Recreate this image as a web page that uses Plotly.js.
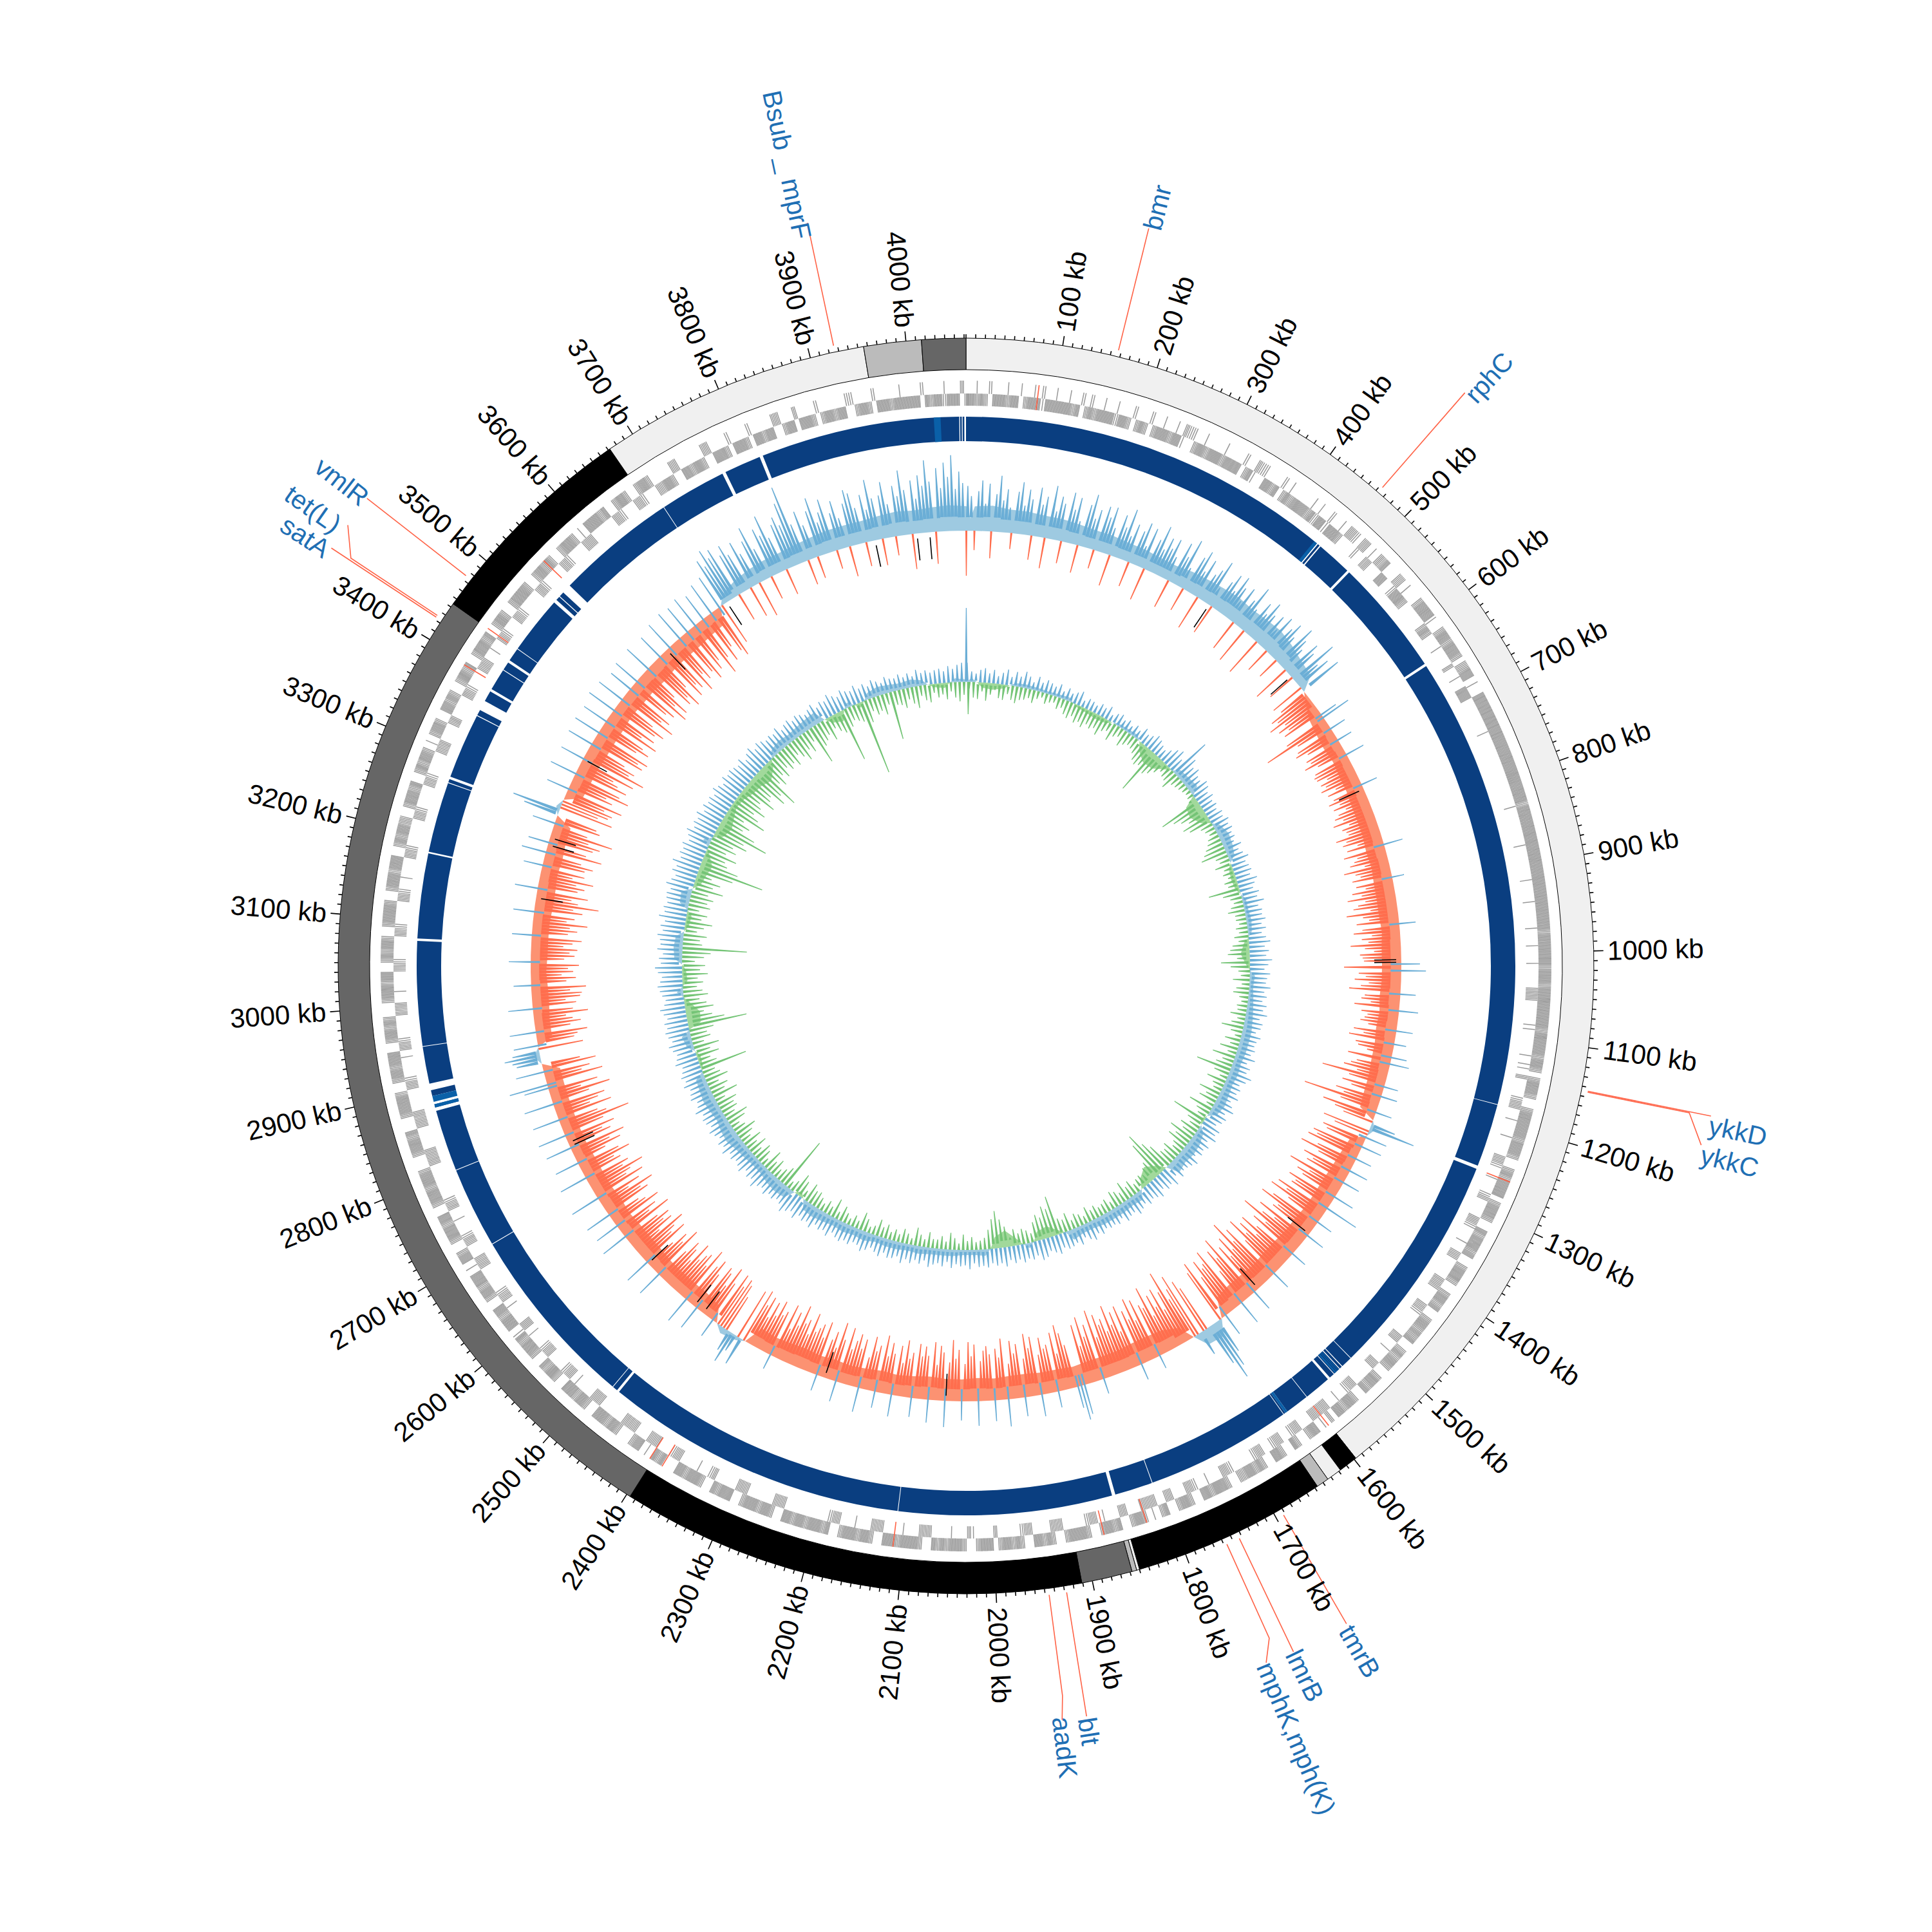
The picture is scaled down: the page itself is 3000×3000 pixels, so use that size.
<!DOCTYPE html>
<html><head><meta charset="utf-8">
<script src="https://cdn.plot.ly/plotly-3.0.1.min.js"></script>
<style>html,body{margin:0;padding:0;background:#fff}</style></head>
<body><div id="chart" style="width:3000px;height:3000px"></div>
<script>
const genomeKb = 4062;

// Outer contig ring: boundaries (kb) and shade
const contigStart = [0,1598,1618,1634,1647,1850,1853,1858,1911,2396,3444,3672,3956,4016];
const contigEnd   = [1598,1618,1634,1647,1850,1853,1858,1911,2396,3444,3672,3956,4016,4062];
const contigColor = ['#f0f0f0','#000000','#f0f0f0','#bbbbbb','#000000','#f0f0f0','#bbbbbb','#666666','#000000','#666666','#000000','#f0f0f0','#bbbbbb','#666666'];

// White gaps in the blue ring (kb)
const gapStart = [448,452,496,639,1180,1256,1529,1543,1547,1556,1563,1598,1627,1632,1807,1853,2111,2473,2482,2703,2800,2874,2882,2885,2899,2901,2951,3076,3180,3266,3271,3352,3360,3385,3414,3425,3444,3514,3523,3530,3685,3765,3768,3813,4054,4057,4060];
const gapEnd   = [449.5,453.5,499,642,1180.8,1260,1529.8,1544,1548,1556.8,1566,1598.8,1630,1632.8,1807.8,1857,2111.8,2476,2482.8,2703.8,2800.8,2878,2885,2892,2901,2907,2951.8,3079,3182,3267,3274,3353,3372,3388,3415,3428,3444.8,3518,3524,3541,3685.8,3768,3769,3817,4055,4058,4062];
// Lighter bands in the blue ring (kb)
const bandStart = [444,1549,1551,1553,1627,2885,2878,4024];
const bandEnd   = [448,1550,1552,1555,1630,2892,2882,4032];

// Gene occupancy per 5 kb bin, one string per 100 kb (0 empty .. 9 filled)
const geneOuter = ["00200500030030020400","20030040500200300050","00400200306550020000","30000500755000040200","00020300400307750660","30778000770300079999","20079979997077990200","99999999999999999999","99999979999999999999","99999999899999979999","99979997999989999799","99979970799970079989","99799970079799990799","97009799979007999700","79979007997979007979","97007997900799799070","30997007900799007979","97700799979900799700","97020799700979970079","99970079799007979970","99970079997979007999","97999007997999700979","99799799007997999700","99979007999799000979","02099700079979990079","97999007997900799979","20999799007997999020","99700799979900799979","99700079997900079999","70079979990079979700","07999799007979970079","99970079997999007979","97700799979007979970","20799700997970079979","00799979007997007999","97007997970079997020","99997900799700799700","00077000000770000500","00500000770007000040","00000550000500000200","0050000300070"];
const geneInner = ["99797099979907999299","99997907979999599707","97079997992007997999","79999079200997907979","99979599299970000400","77000990059997000000","79700020000700200999","00000000200000000000","00000020000000030000","00030000300000200020","00200000776000002200","00020220700005770030","00200007750020005700","00775000200770000077","70000775000000770020","00770000077500200777","77000775007750077500","00057700030057700077","00777700077000307750","00007770000775000007","00003700020000777000","20000777000200077500","00000000777000000777","00000750020000775000","77700077770000007770","00020775000077500020","77000020775000000777","00077500020077500000","00077770000077770000","07750000207750000077","70020000775000007750","00007750020000775000","00077500000775000007","77000077000007750000","77700200775000775000","00775000007750000777","00000077500077500077","99700997997009997099","97099799007990999707","99799007997099979999","9909799599907"];
// Highlighted genes in the gene track (kb)
const markedGenes = [81,1260,1599,1828,1877,2112,2384,2400,3396,3444,3541];

// GC skew per 5 kb, one row per 100 kb (positive outward, blue; negative inward, orange)
const skewRows = [
[62,48,-30,55,70,38,66,-42,52,78,44,60,35,-25,58,72,40,63,50,-38],
[68,45,57,-48,74,39,61,52,-35,70,47,65,33,-44,59,75,42,56,-30,64],
[50,66,38,-50,60,44,72,35,54,-40,48,62,30,58,-52,46,68,36,55,42],
[58,34,-46,60,42,70,30,-38,52,64,36,56,-55,40,50,66,28,-48,44,58],
[36,62,48,30,54,-50,42,66,34,-58,52,38,60,44,-62,50,32,56,-40,46],
[58,40,-35,64,48,36,-60,55,44,-45,70,38,52,-55,62,-48,-70,-62,-80,-55],
[-70,-55,-66,32,55,-72,-111,-58,30,-64,-70,-52,28,-60,-55,-68,-48,35,-58,-62],
[-60,-45,-58,-52,-62,-40,-55,30,-50,-60,-44,-56,-38,-52,-60,-48,-66,-42,-55,-50],
[-48,-70,-55,-62,-40,-58,35,-66,-46,-52,-60,-38,-72,-55,-48,-62,22,-58,-44,-66],
[-52,-75,-48,-60,-68,-42,-80,-55,-46,-66,30,-58,-72,-44,-60,-50,-78,-56,-42,-64],
[-60,-58,34,-89,45,-66,-55,-72,-50,-62,-80,28,-55,-60,-45,-70,35,-58,-48,-52],
[-58,-45,30,-66,-50,-72,22,-60,-55,-40,28,-68,35,-52,-60,-70,-48,-102,-58,26],
[-66,-50,30,-72,-58,-120,-60,30,-85,-64,-48,35,65,-75,-55,40,-70,-62,38,-80],
[-72,-85,30,-64,-90,-58,35,-78,-60,-68,32,-92,-55,-74,-62,38,-80,-66,-70,62],
[-88,-70,-95,-60,30,-82,-100,-66,-72,35,-90,-58,-78,-110,-64,-84,30,-70,-96,-62],
[-92,-75,-105,-68,35,-100,-80,-119,-72,-98,-66,-88,40,-110,-78,-95,-60,45,-104,-85],
[-80,-96,-70,42,-102,-88,50,70,86,60,-75,-90,35,-105,-85,-70,-119,-88,-60,-98],
[-70,-92,-60,-110,-78,-85,25,-98,-66,-104,-72,-88,30,-100,-60,-94,-75,-108,-68,-90],
[-82,-100,-65,-110,28,-90,-72,-105,-60,-95,55,64,40,-68,-88,-102,-58,-92,30,-75],
[-70,-88,-62,40,-92,-75,-98,-60,35,-84,-70,-90,-55,50,-95,-66,-80,38,-72,-85],
[-78,-62,45,-88,-70,-92,-58,35,-80,-66,-95,-60,48,-75,-85,-55,-90,42,-68,-82],
[-66,-85,35,-70,-60,-88,-52,-78,40,-64,-80,-58,-90,30,-72,-62,-84,-50,45,-76],
[-60,-82,-70,-55,-88,38,-66,-92,-50,-74,-60,30,-85,-58,-78,-70,-62,-90,-54,-76],
[-68,-95,-60,-80,-50,-88,28,-72,-64,-85,-58,-78,-50,-82,-66,-88,40,-82,25,45],
[30,-60,-78,-85,-70,-88,35,-66,-90,-55,-75,-82,45,-62,-84,-70,50,-92,-60,-78],
[-72,-60,-85,-50,-68,-78,-55,48,-88,-62,-74,-50,48,-82,-60,-70,-90,-48,-76,-64],
[-78,-60,50,-88,-55,-70,45,-82,-62,-52,48,-76,-66,-90,-50,-72,55,-84,-58,-68],
[-92,-60,-72,52,-64,-55,-84,-68,45,-50,-78,-62,-88,48,-70,-58,-80,52,-66,-110],
[-75,-62,50,-88,-55,-70,-82,55,-60,-95,-50,-78,45,71,-90,-58,-72,52,-84,-60],
[35,40,50,38,-70,45,-58,-64,-80,48,-55,-72,-60,-50,-85,-62,45,-68,-52,-75],
[-78,-60,-85,32,-55,-70,-48,-66,-58,-75,40,-52,-68,-60,-72,-50,-64,-78,36,-56],
[-70,-58,-85,-52,-64,38,-75,-60,-99,-66,-55,-80,42,-62,-72,-58,-84,-50,-68,35],
[-66,-78,-58,45,-88,-62,38,-70,-80,-60,-97,-55,42,-72,-65,50,68,-85,-60,-75],
[-80,-65,-92,42,-72,-60,-95,-78,50,-85,-68,-58,-90,45,-103,-75,-82,-62,48,-88],
[-78,-92,50,-66,-85,-72,48,-90,-60,-80,55,-75,-88,-64,52,-95,-70,-82,45,-68],
[-80,50,-96,-70,-90,-60,52,-85,-75,-95,-62,48,-88,-70,-80,55,-92,-65,-78,58],
[-72,-88,55,-78,-65,60,-95,-70,52,-82,-60,62,-74,-85,65,-68,70,58,80,65],
[75,-45,60,72,55,-50,68,48,-57,62,80,45,-38,70,58,85,50,-42,65,74],
[60,90,112,55,-40,70,48,-35,65,82,45,58,75,-30,52,68,42,-48,60,78],
[72,50,-38,66,44,85,58,-42,60,78,46,-30,70,55,90,62,-55,74,48,80],
[65,100,70,-50,88,60,95,75,105,58,82,66,-70]];

// Smoothed GC skew per 25 kb, one row per 100 kb
const skewSmoothRows = [[38,40,36,36],[34,34,32,30],[30,28,28,26],[26,30,32,34],[36,34,36,38],[34,28,24,-8],[-20,-24,-26,-24],[-26,-26,-28,-28],[-28,-30,-28,-30],[-30,-30,-28,-30],[-30,-30,-32,-30],[-32,-30,-30,-28],[-28,-26,8,-22],[-26,-28,-30,-30],[-30,-32,-32,-34],[-34,-32,-34,-34],[-30,24,22,-24],[-34,-36,-36,-34],[-34,-34,-32,-34],[-34,-36,-36,-34],[-36,-34,-34,-36],[-34,-32,-34,-32],[-30,-32,-30,-32],[-30,-28,-30,6],[10,-24,-28,-28],[-28,-28,-30,-30],[-30,-28,-30,-28],[-28,-28,-26,-26],[-26,-26,-26,-26],[10,-24,-24,-26],[-26,-24,-26,-26],[-26,-28,-28,-26],[-28,-26,-26,7],[-26,-28,-28,-30],[-30,-30,-28,-30],[-30,-32,-30,-30],[-30,-28,-26,14],[22,26,28,28],[30,32,34,34],[34,36,38,36],[38,40,38]];

// Inner track per 10 kb: outward (blue) and inward (green) amplitudes
const innerBlueRows = [[40,22,18,26,30,20,28,16,24,32],[18,30,22,34,26,16,30,20,28,24],[20,28,16,26,18,24,30,14,22,20],[16,24,20,28,14,22,26,18,24,16],[24,18,30,22,26,34,30,24,20,28],[38,44,30,65,50,36,42,32,30,40],[36,28,34,26,30,24,32,28,36,30],[34,28,30,24,36,26,32,40,30,34],[36,30,42,34,28,38,32,44,30,36],[34,40,30,38,28,36,44,32,40,34],[46,38,30,42,36,34,44,32,38,30],[40,34,44,30,38,36,28,40,34,32],[36,30,42,28,38,34,48,40,30,36],[32,40,28,36,44,30,38,34,26,40],[36,44,30,40,34,38,28,42,36,32],[30,38,26,42,32,36,28,40,34,30],[36,28,34,40,30,32,38,26,34,30],[32,28,36,30,40,34,26,38,30,34],[36,30,40,34,28,38,42,30,36,32],[38,30,36,28,40,32,36,30,38,34],[36,28,40,32,34,30,38,26,36,30],[34,40,28,36,30,38,32,42,30,36],[38,30,40,34,28,36,42,32,30,38],[34,40,36,30,42,34,38,32,44,36],[40,34,46,36,42,50,38,34,40,36],[44,36,40,50,38,42,34,46,40,36],[42,36,48,38,44,34,40,46,36,42],[44,38,50,40,36,46,42,38,48,40],[46,40,36,48,42,38,44,50,40,46],[50,44,48,40,46,52,42,38,44,48],[52,46,42,50,56,44,48,40,52,46],[48,54,44,50,42,56,46,50,44,48],[50,44,56,48,42,52,46,58,44,50],[46,52,42,48,56,44,50,46,54,42],[50,44,48,42,52,46,40,50,44,48],[44,40,48,36,44,50,38,46,42,36],[40,36,44,32,38,42,34,40,36,30],[36,42,30,38,34,44,36,30,40,34],[30,38,28,34,26,36,30,24,34,28],[26,32,24,30,22,34,26,30,24,28],[30,24,34,28,36,40,115]];
const innerGreenRows = [[10,24,26,14,28,18,10,22,24,14],[22,26,20,18,14,20,12,8,16,12],[10,18,14,22,26,20,28,24,30,22],[26,22,30,20,16,28,18,14,26,20],[16,18,22,30,34,30,73,36,30,22],[14,18,20,28,16,14,12,10,8,10],[12,67,50,40,30,44,36,20,16,12],[18,22,28,34,41,20,16,26,14,18],[12,20,16,49,28,18,14,20,26,16],[16,12,18,14,22,16,26,30,34,20],[45,30,18,14,26,12,20,24,14,10],[16,14,24,12,20,34,18,10,24,14],[28,14,36,18,26,55,24,12,30,18],[14,34,20,28,12,38,22,16,55,26],[18,30,22,40,26,34,20,16,28,22],[24,40,52,74,60,30,24,16,20,18],[14,24,18,30,16,22,26,12,20,16],[14,20,16,24,12,18,22,14,28,20],[24,62,44,50,34,40,30,14,20,24],[18,26,14,32,44,58,46,30,18,14],[12,20,14,24,10,18,26,12,20,14],[14,24,12,18,28,10,16,22,12,18],[12,22,16,26,14,10,20,28,12,18],[10,16,24,12,30,14,20,12,18,24],[22,30,14,26,34,18,12,84,28,20],[14,26,18,32,12,22,28,16,30,18],[30,16,24,34,20,14,28,36,18,26],[24,32,16,40,22,30,18,36,26,20],[74,28,20,36,24,40,18,30,26,38],[92,58,40,28,44,34,24,38,30,22],[32,24,40,28,36,20,34,44,100,30],[26,36,20,30,42,24,32,18,34,28],[36,26,48,30,40,24,56,103,60,40],[34,50,30,44,36,56,48,84,60,36],[44,30,63,48,36,52,40,34,56,44],[40,62,50,73,36,44,30,38,26,34],[28,36,22,30,40,26,34,20,61,36],[30,24,36,20,28,34,83,30,22,26],[30,117,36,20,28,24,32,18,75,22],[24,30,18,26,34,16,24,28,14,22],[18,26,14,24,30,20,50]];
// Smoothed inner track per 25 kb, one row per 100 kb
const innerSmoothRows = [[6,-8,-10,-6],[5,6,5,4],[5,6,-4,-6],[-8,-6,4,5],[6,-12,-22,-20],[-6,10,12,14],[-20,-24,-14,10],[16,14,10,-6],[-8,-6,6,6],[8,6,-8,-14],[-6,8,6,8],[10,12,14,14],[14,12,14,12],[14,16,12,-6],[10,16,18,16],[20,-12,-24,-14],[14,12,14,14],[14,12,12,16],[-6,-18,-14,8],[-10,-26,-18,10],[8,8,10,10],[10,12,10,12],[12,10,14,12],[14,12,14,16],[14,-8,16,18],[16,12,12,14],[16,20,18,14],[16,18,16,14],[-4,-6,10,14],[-20,-22,-8,10],[-8,-6,12,14],[12,-6,-8,14],[16,-10,-14,-18],[-6,12,-14,-20],[-14,-8,-10,-16],[-18,-24,-12,10],[14,12,14,16],[18,-10,-16,8],[-8,10,14,12],[10,12,8,-5],[-8,6,4]];

// Short black marks in the skew track (kb)
const blackMarks = [383,545,745,1006,1010,1444,1555,2061,2245,2450,2467,2560,2770,2776,3148,3229,3240,3367,3572,3686,3926,3989,4008];

// Resistance genes and their leader lines: position kb per vertex and radius per vertex
const geneNames = ['Bsub _ mprF','bmr','rphC','ykkD','ykkC','tmrB','lmrB','mphK,mph(K)','blt','aadK','vmlR','tet(L)','satA'];
const leaderKb = [[3926,3926],[157,157],[463,463],[1144,1144],[1145,1145,1170],[1692,1692],[1743,1743],[1757,1757,1768],[1928,1928],[1946,1946,1949],[3475,3475],[3425,3425,3447],[3423,3423]];
const leaderR  = [[985,1180],[985,1180],[985,1180],[985,1180],[985,1146,1175],[985,1180],[985,1180],[985,1145,1178],[985,1180],[985,1143,1180],[985,1180],[985,1146,1179],[985,1180]];
const nameKb = [3920,160,470,1152,1178,1694,1743,1770,1928,1950,3473,3441,3419];
const nameR  = [1275,1215,1223,1226,1224,1227,1221,1304,1204,1223,1227,1237,1223];
const nameAngle = [78,-76,-48,12,14,60,64,67,81,83,38,35,33];

// Track radii
const rOuter=[926,975], rGeneOuter=[889,909], rGeneInner=[870,889], rBlue=[815,853], skewBase=676, innerBase=441;

const deg = kb => kb/genomeKb*360;
const barTrace = (theta,width,base,r,color,line) => ({type:'barpolar',theta,width,base,r,
  marker:{color,line:line||{width:0}},hoverinfo:'skip',showlegend:false});
const traces=[];

// Outer ring
traces.push(barTrace(
  contigStart.map((s,i)=>deg((s+contigEnd[i])/2)),
  contigStart.map((s,i)=>deg(contigEnd[i]-s)),
  contigStart.map(()=>rOuter[0]), contigStart.map(()=>rOuter[1]-rOuter[0]),
  contigColor,{color:'#000',width:1}));

// Ticks
{const tr=[],tt=[];
 for(let k=0;k<genomeKb;k+=10){const major=k%100===0&&k>0;
  tt.push(deg(k),deg(k),null);tr.push(rOuter[1],rOuter[1]+(major?15:6),null);}
 traces.push({type:'scatterpolar',mode:'lines',theta:tt,r:tr,line:{color:'#000',width:1.6},hoverinfo:'skip',showlegend:false});}

// Genes: each filled bin is drawn as evenly spaced fine stripes
function geneBars(rows,ring){const th=[],w=[];
  rows.forEach((row,i)=>{[...row].forEach((c,j)=>{const d=+c;if(!d)return;
    const stripes=Math.max(1,Math.round(d*4/9));
    for(let s=0;s<stripes;s++){th.push(deg(i*100+j*5+(s+.5)*5/stripes));w.push(deg(1.08));}});});
  return barTrace(th,w,th.map(()=>ring[0]),th.map(()=>ring[1]-ring[0]),'#989898');}
traces.push(geneBars(geneOuter,rGeneOuter));
traces.push(geneBars(geneInner,rGeneInner));
traces.push(barTrace(markedGenes.map(deg),markedGenes.map(()=>deg(1.2)),markedGenes.map(()=>rGeneInner[0]),markedGenes.map(()=>rGeneOuter[1]-rGeneInner[0]),'#ff6347'));

// Blue ring
{const th=[],w=[];let p=0;
 gapStart.forEach((s,i)=>{th.push(deg((p+s)/2));w.push(deg(s-p));p=gapEnd[i];});
 if(p<genomeKb){th.push(deg((p+genomeKb)/2));w.push(deg(genomeKb-p));}
 traces.push(barTrace(th,w,th.map(()=>rBlue[0]),th.map(()=>rBlue[1]-rBlue[0]),'#0a3e80'));
 traces.push(barTrace(bandStart.map((s,i)=>deg((s+bandEnd[i])/2)),bandStart.map((s,i)=>deg(bandEnd[i]-s)),bandStart.map(()=>rBlue[0]),bandStart.map(()=>rBlue[1]-rBlue[0]),'#0a60a8'));}

// Smoothed fills as polygons, one per run of equal sign
const skewSmooth=skewSmoothRows.flat(), innerSmooth=innerSmoothRows.flat();
function smoothFill(vals,baseR,pos,neg){
  for(const [sign,color] of [[1,pos],[-1,neg]]){
    const t=[],r=[];let i=0;
    while(i<vals.length){
      if(Math.sign(vals[i])!==sign){i++;continue;}
      let j=i;while(j+1<vals.length&&Math.sign(vals[j+1])===sign)j++;
      t.push(deg(i*25));r.push(baseR);
      for(let k=i;k<=j;k++){t.push(deg((k+.5)*25));r.push(baseR+vals[k]);}
      t.push(deg((j+1)*25));r.push(baseR);
      for(let k=j;k>=i;k--){t.push(deg((k+.5)*25));r.push(baseR);}
      t.push(deg(i*25),null);r.push(baseR,null);
      i=j+1;
    }
    traces.push({type:'scatterpolar',mode:'lines',theta:t,r,fill:'toself',fillcolor:color,line:{width:0,color},hoverinfo:'skip',showlegend:false});
  }
}
smoothFill(skewSmooth,skewBase,'#9ecae1','#fc9272');
smoothFill(innerSmooth,innerBase,'#9ecae1','#a1d99b');

// Spikes
function spikeTrace(s,color,w){
  const t=[],r=[];
  s.forEach(p=>{t.push(deg(p.k-p.h),deg(p.k),deg(p.k+p.h),null);r.push(p.b,p.tip,p.b,null);});
  return {type:'scatterpolar',mode:'lines',theta:t,r,fill:'toself',fillcolor:color,line:{color,width:w},hoverinfo:'skip',showlegend:false};}
const smoothAt=(vals,k)=>vals[Math.min(vals.length-1,Math.floor(k/25))];
{const up=[],dn=[];
 skewRows.forEach((row,i)=>row.forEach((v,j)=>{const k=i*100+j*5+2.5,e=smoothAt(skewSmooth,k);
   if(v>0) up.push({k,tip:skewBase+(e>0?v*1.12:v*.85),b:skewBase+e*.55,h:e>0?1.8:.8});
   else dn.push({k,tip:skewBase+v,b:skewBase+Math.min(e,0)*.55,h:e<0?1.8:.8});}));
 traces.push(spikeTrace(dn,'#ff6e4e',1.4));
 traces.push(spikeTrace(up,'#6baed6',1.4));}
{const up=[],dn=[];
 const shrink=v=>v<60?v*.75:v;
 innerGreenRows.forEach((row,i)=>row.forEach((v,j)=>{const k=i*100+j*10+7.5;dn.push({k,tip:innerBase-v,b:innerBase+Math.min(smoothAt(innerSmooth,k),0)*.4,h:2.2});}));
 innerBlueRows.forEach((row,i)=>row.forEach((v,j)=>{const k=i*100+j*10+2.5;up.push({k,tip:innerBase+shrink(v),b:innerBase+Math.max(smoothAt(innerSmooth,k),0)*.4,h:2.2});}));
 traces.push(spikeTrace(dn,'#74c476',1.3));
 traces.push(spikeTrace(up,'#6baed6',1.3));}

// Black marks
{const t=[],r=[];blackMarks.forEach(k=>{t.push(deg(k),deg(k),null);r.push(skewBase-42,skewBase-8,null);});
 traces.push({type:'scatterpolar',mode:'lines',theta:t,r,line:{color:'#000',width:1.6},hoverinfo:'skip',showlegend:false});}

// Leaders
{const t=[],r=[];geneNames.forEach((_,i)=>{leaderKb[i].forEach((k,j)=>{t.push(deg(k));r.push(leaderR[i][j]);});t.push(null);r.push(null);});
 traces.push({type:'scatterpolar',mode:'lines',theta:t,r,line:{color:'#ff6347',width:1.6},hoverinfo:'skip',showlegend:false});}

// Text
const px=(r,kb)=>{const a=deg(kb)*Math.PI/180;return {x:.5+r*Math.sin(a)/3000,y:.5+r*Math.cos(a)/3000};};
const annotations=[];
for(let k=100;k<=4000;k+=100){const label=k+' kb',th=deg(k);
  const p=px(997+label.length*10.6,k);
  annotations.push({xref:'paper',yref:'paper',x:p.x,y:p.y,text:label,showarrow:false,xanchor:'center',yanchor:'middle',
    textangle:th<180?th-90:th-270,font:{family:'Liberation Sans, Arial, sans-serif',size:42,color:'#000'}});}
geneNames.forEach((n,i)=>{const p=px(nameR[i],nameKb[i]);
  annotations.push({xref:'paper',yref:'paper',x:p.x,y:p.y,text:n,showarrow:false,xanchor:'center',yanchor:'middle',
    textangle:nameAngle[i],font:{family:'Liberation Sans, Arial, sans-serif',size:41,color:'#1f6fb4'}});});

Plotly.newPlot('chart',traces,{
  width:3000,height:3000,margin:{l:0,r:0,t:0,b:0},paper_bgcolor:'#fff',showlegend:false,annotations,
  polar:{domain:{x:[0,1],y:[0,1]},bgcolor:'#fff',barmode:'overlay',bargap:0,
    radialaxis:{visible:false,range:[0,1500]},
    angularaxis:{visible:false,rotation:90,direction:'clockwise',thetaunit:'degrees'}}
},{staticPlot:true,displayModeBar:false});
</script></body></html>
